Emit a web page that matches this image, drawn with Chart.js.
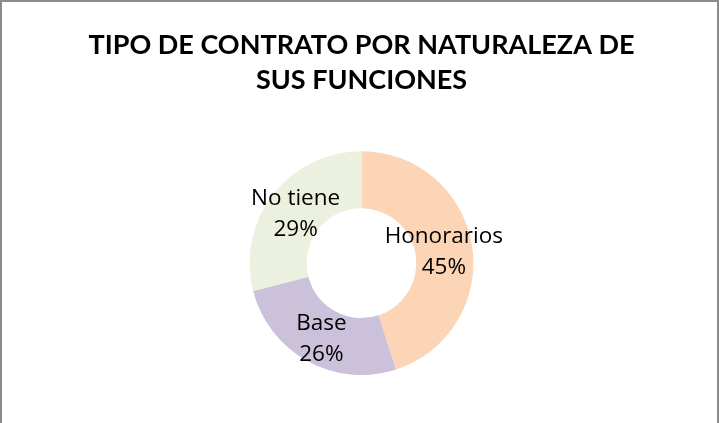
<!DOCTYPE html>
<html>
<head>
<meta charset="utf-8">
<script src="https://cdn.jsdelivr.net/npm/chart.js@4"></script>
<style>
    body { margin: 0; background: #fff; }
    #frame { position: absolute; left: 0; top: 0; width: 719px; height: 440px; box-sizing: border-box; border: 2px solid #8c8c8c; }
    #wrap { position: absolute; left: 0; top: 0; width: 719px; height: 423px; }
</style>
</head>
<body>
<div id="frame"></div>
<div id="wrap"><canvas id="contratos"></canvas></div>
<script>
(function(){
    const titleLines = ["TIPO DE CONTRATO POR NATURALEZA DE", "SUS FUNCIONES"];
    const categories = ["Honorarios", "Base", "No tiene"];
    const percentages = [45, 26, 29];
    const colors = ["#fbd5b5", "#ccc1da", "#ebf1de"];

    // etiquetas dentro de cada sector: categoria y porcentaje
    const sliceLabels = {
        id: "sliceLabels",
        afterDatasetsDraw(chart) {
            const ctx = chart.ctx;
            const meta = chart.getDatasetMeta(0);
            ctx.save();
            ctx.fillStyle = "#000";
            ctx.font = "22.5px 'Open Sans'";
            ctx.textAlign = "center";
            ctx.textBaseline = "middle";
            meta.data.forEach(function (arc, i) {
                const p = arc.getCenterPoint();
                ctx.fillText(chart.data.labels[i], p.x, p.y - 13);
                ctx.fillText(chart.data.datasets[0].data[i] + "%", p.x, p.y + 18);
            });
            ctx.restore();
        }
    };

    const ctx = document.getElementById("contratos");
    new Chart(ctx, {
        type: "doughnut",
        data: {
            labels: categories,
            datasets: [
                {
                    data: percentages,
                    backgroundColor: colors,
                    borderWidth: 0,
                },
            ],
        },
        options: {
            responsive: true,
            maintainAspectRatio: false,
            animation: false,
            cutout: "49%",
            layout: {
                padding: { left: 4, right: 0, top: 0, bottom: 48 },
            },
            plugins: {
                legend: { display: false },
                tooltip: { enabled: false },
                title: {
                    display: true,
                    text: titleLines,
                    color: "#000",
                    font: { family: "Lato", size: 27, weight: "bold", lineHeight: 1.3 },
                    padding: { top: 28, bottom: 53 },
                },
            },
        },
        plugins: [sliceLabels],
    });
})()
</script>
</body>
</html>
